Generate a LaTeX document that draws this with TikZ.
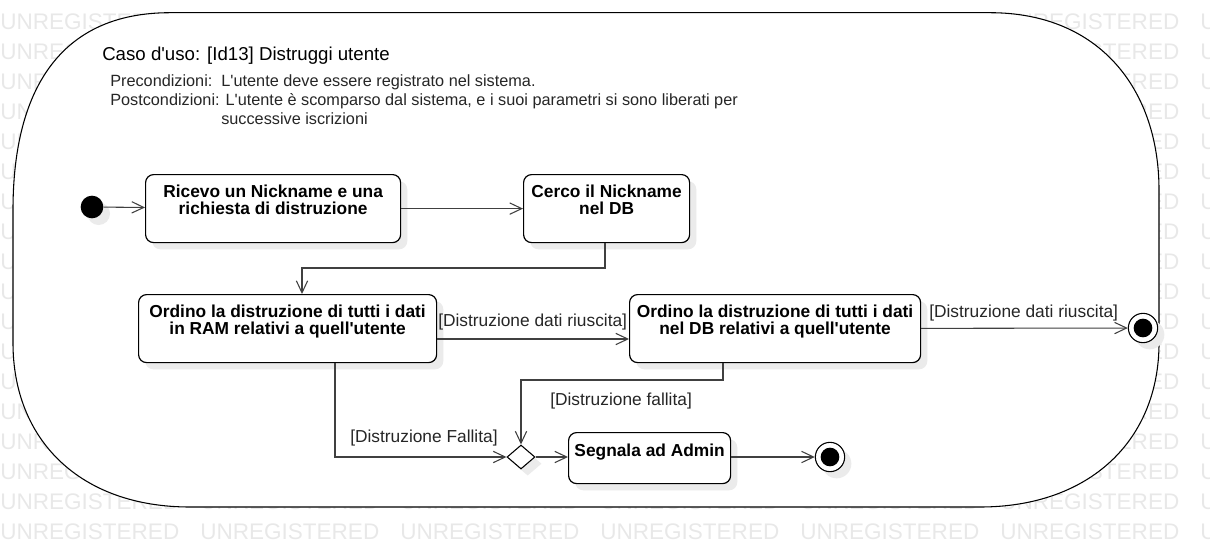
\documentclass[tikz,border=0pt]{standalone}
\usepackage{fontspec}
\setmainfont{Liberation Sans}
\newfontfamily\arial{Liberation Sans}
\usetikzlibrary{arrows.meta,shapes.geometric,shadows}

\tikzset{
  ombra/.style={drop shadow={shadow xshift=5pt,shadow yshift=-5pt,fill=black!8,opacity=1}},
  attivita/.style={draw,fill=white,rounded corners=6pt,line width=0.9pt,ombra,
    font=\arial\fontsize{13}{12.5}\selectfont\bfseries,align=center,
    inner xsep=0pt,inner ysep=0pt,text height=29.75pt,text depth=21.25pt,anchor=north west},
  inizio/.style={circle,fill=black,minimum size=17pt,inner sep=0pt,ombra},
  fine/.style={circle,draw,fill=white,line width=0.8pt,minimum size=22pt,inner sep=0pt,ombra},
  decisione/.style={diamond,draw,fill=white,line width=0.8pt,minimum width=21pt,
    minimum height=18pt,inner sep=0pt,ombra},
  flusso/.style={draw=black!75,line width=0.8pt,-{Straight Barb[length=9pt,width=8.5pt]}},
  guardia/.style={font=\arial\fontsize{13}{15}\selectfont,text=black!85,anchor=base west,inner sep=0pt},
  nota/.style={font=\arial\fontsize{12.2}{14}\selectfont,text=black!85,anchor=base west,inner sep=0pt},
  filigrana/.style={font=\arial\fontsize{16.9}{18}\selectfont,text=black!9,anchor=west,inner sep=0pt}
}

\begin{document}
\begin{tikzpicture}[x=0.75pt,y=-0.75pt]
\useasboundingbox (0,0) rectangle (1210,557);
% filigrana (solo dove resta visibile)
\begin{scope}
\clip (0,0) rectangle (1210,557);
\foreach \r in {0,...,17}
  \foreach \c in {0,...,6} {
    \pgfmathtruncatemacro\nascosto{and(and(\r>0,\r<16),and(\c>0,\c<5))}
    \ifnum\nascosto=0
      \node[filigrana] (wm-\r-\c) at (200*\c,21.7+30*\r) {UNREGISTERED};
    \fi
  }
\end{scope}
% contorno del caso d'uso
\draw[fill=white,line width=0.8pt] (170,12.7) -- (990,12.7)
  .. controls (1100,12.7) and (1159,90) .. (1159,190) -- (1159,343)
  .. controls (1159,440) and (1090,507) .. (980,507) -- (190,507)
  .. controls (80,507) and (13,440) .. (13,343) -- (13,210)
  .. controls (13,90) and (60,12.7) .. (170,12.7) -- cycle;
% intestazione
\node[anchor=base west,inner sep=0pt,font=\arial\fontsize{14}{16}\selectfont] (titolo) at (102,60) {Caso d'uso: [Id13] Distruggi utente};
\node[nota] (pre) at (110,86) {Precondizioni:\ \ L'utente deve essere registrato nel sistema.};
\node[nota] (post) at (110,105) {Postcondizioni: L'utente è scomparso dal sistema, e i suoi parametri si sono liberati per};
\node[nota] (post2) at (221,124) {successive iscrizioni};
% attivita
\node[inizio] (start) at (92,207) {};
\node[attivita,minimum width=191.25pt] (ricevo) at (145,174) {Ricevo un Nickname e una\\richiesta di distruzione};
\node[attivita,minimum width=124.5pt] (cerco) at (523,174) {Cerco il Nickname\\nel DB};
\node[attivita,minimum width=223.5pt] (ordram) at (138,294) {Ordino la distruzione di tutti i dati\\in RAM relativi a quell'utente};
\node[attivita,minimum width=218.25pt] (orddb) at (629,294) {Ordino la distruzione di tutti i dati\\nel DB relativi a quell'utente};
\node[fine] (fin1) at (1143,328) {};
\fill (fin1) circle (7pt);
\node[decisione] (dec) at (521,457) {};
\node[attivita,minimum width=121.5pt,text height=17.75pt,text depth=20.5pt] (segnala) at (568,432) {Segnala ad Admin};
\node[fine] (fin2) at (830,457) {};
\fill (fin2) circle (7pt);
% transizioni
\coordinate (g1) at (605,268);
\coordinate (g2) at (302,268);
\coordinate (g3) at (0,339);
\coordinate (g4) at (335,457);
\coordinate (g5) at (723,380);
\coordinate (g6) at (521,380);
\draw[flusso] (start) -- (ricevo);
\draw[flusso] (ricevo) -- (cerco);
\draw[flusso] (cerco.south -| g1) -- (g1) -- (g2) -- (ordram.north -| g2);
\draw[flusso] (ordram.east |- g3) -- (orddb.west |- g3);
\node[guardia] (lab1) at (438,326) {[Distruzione dati riuscita]};
\draw[flusso] (orddb) -- (fin1);
\node[guardia] (lab2) at (929,317) {[Distruzione dati riuscita]};
\draw[flusso] (ordram.south -| g4) |- (dec);
\node[guardia] (lab3) at (350,442) {[Distruzione Fallita]};
\draw[flusso] (orddb.south -| g5) -- (g5) -- (g6) -- (dec);
\node[guardia] (lab4) at (550,405) {[Distruzione fallita]};
\draw[flusso] (dec.east) -- (segnala.west |- dec.east);
\draw[flusso] (segnala.east |- fin2) -- (fin2);
\end{tikzpicture}
\end{document}
